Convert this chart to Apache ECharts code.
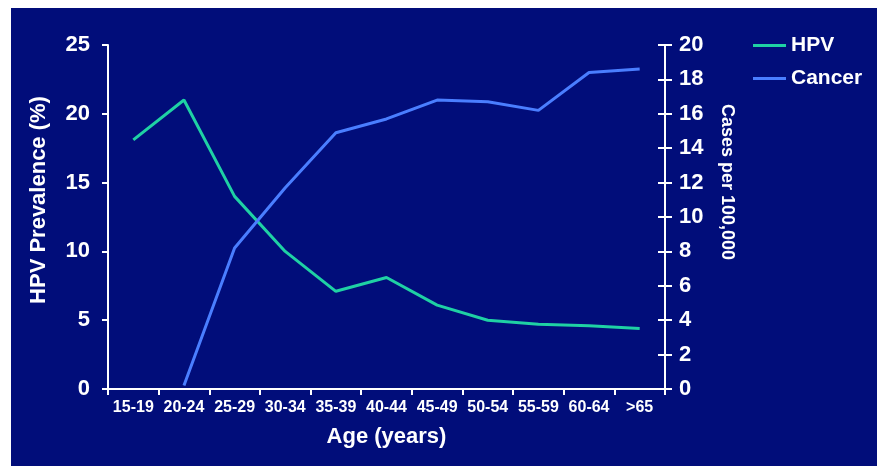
<!DOCTYPE html>
<html>
<head>
<meta charset="utf-8">
<script src="https://cdn.jsdelivr.net/npm/echarts@6/dist/echarts.min.js"></script>
<style>
html,body{margin:0;padding:0;background:#ffffff;width:877px;height:466px;overflow:hidden;}
#chart{position:absolute;left:11px;top:8px;width:866px;height:458px;background:#010d7a;}
</style>
</head>
<body>
<div id="chart"></div>
<script>
const categories = ['15-19','20-24','25-29','30-34','35-39','40-44','45-49','50-54','55-59','60-64','>65'];
const hpvValues = [18.1, 21.0, 14.0, 10.0, 7.1, 8.1, 6.1, 5.0, 4.7, 4.6, 4.4];
const cancerValues = [null, 0.2, 8.2, 11.7, 14.9, 15.7, 16.8, 16.7, 16.2, 18.4, 18.6];
const leftTicks = {min: 0, max: 25, interval: 5};
const rightTicks = {min: 0, max: 20, interval: 2};

const font = '"Liberation Sans", Arial, sans-serif';
const white = '#ffffff';
const chart = echarts.init(document.getElementById('chart'), null, {renderer: 'canvas'});
const axisLine = {show: true, lineStyle: {color: white, width: 2}};
chart.setOption({
  backgroundColor: '#010d7a',
  animation: false,
  textStyle: {fontFamily: font},
  grid: {left: 97, top: 37, right: 212, bottom: 77, containLabel: false},
  legend: {
    orient: 'vertical', left: 737, top: 22, itemGap: 12,
    icon: 'rect', itemWidth: 33, itemHeight: 3,
    textStyle: {color: white, fontSize: 21, fontWeight: 'bold', fontFamily: font},
    data: ['HPV', 'Cancer']
  },
  xAxis: {
    type: 'category', data: categories, boundaryGap: true,
    name: 'Age (years)', nameLocation: 'middle', nameGap: 37,
    nameTextStyle: {color: white, fontSize: 22, fontWeight: 'bold', fontFamily: font},
    axisLine: axisLine,
    axisTick: {show: true, length: 6, lineStyle: {color: white, width: 2}},
    axisLabel: {color: white, fontSize: 16, fontWeight: 'bold', margin: 11, interval: 0, fontFamily: font},
    splitLine: {show: false}
  },
  yAxis: [
    {
      type: 'value', position: 'left', min: leftTicks.min, max: leftTicks.max, interval: leftTicks.interval,
      name: 'HPV Prevalence (%)', nameLocation: 'middle', nameGap: 58, nameRotate: 90,
      nameTextStyle: {color: white, fontSize: 22, fontWeight: 'bold', fontFamily: font, padding: [0, 0, 0, 34]},
      axisLine: axisLine,
      axisTick: {show: true, length: 6, lineStyle: {color: white, width: 2}},
      axisLabel: {color: white, fontSize: 22, fontWeight: 'bold', margin: 18, fontFamily: font},
      splitLine: {show: false}
    },
    {
      type: 'value', position: 'right', min: rightTicks.min, max: rightTicks.max, interval: rightTicks.interval,
      name: 'Cases per 100,000', nameLocation: 'middle', nameGap: 53, nameRotate: -90,
      nameTextStyle: {color: white, fontSize: 18, fontWeight: 'bold', fontFamily: font, padding: [0, 70, 0, 0]},
      axisLine: axisLine,
      axisTick: {show: true, length: 7, lineStyle: {color: white, width: 2}},
      axisLabel: {color: white, fontSize: 22, fontWeight: 'bold', margin: 14, fontFamily: font},
      splitLine: {show: false}
    },
    {
      type: 'value', position: 'right', min: rightTicks.min, max: rightTicks.max, interval: rightTicks.interval,
      axisLine: {show: false},
      axisTick: {show: true, inside: true, length: 7, lineStyle: {color: white, width: 2}},
      axisLabel: {show: false},
      splitLine: {show: false}
    }
  ],
  series: [
    {
      name: 'HPV', type: 'line', yAxisIndex: 0, data: hpvValues,
      showSymbol: false, symbol: 'none',
      lineStyle: {color: '#1fd1a4', width: 3}, itemStyle: {color: '#1fd1a4'}
    },
    {
      name: 'Cancer', type: 'line', yAxisIndex: 1, data: cancerValues,
      showSymbol: false, symbol: 'none',
      lineStyle: {color: '#4a7eff', width: 3}, itemStyle: {color: '#4a7eff'}
    }
  ]
});
</script>
</body>
</html>
